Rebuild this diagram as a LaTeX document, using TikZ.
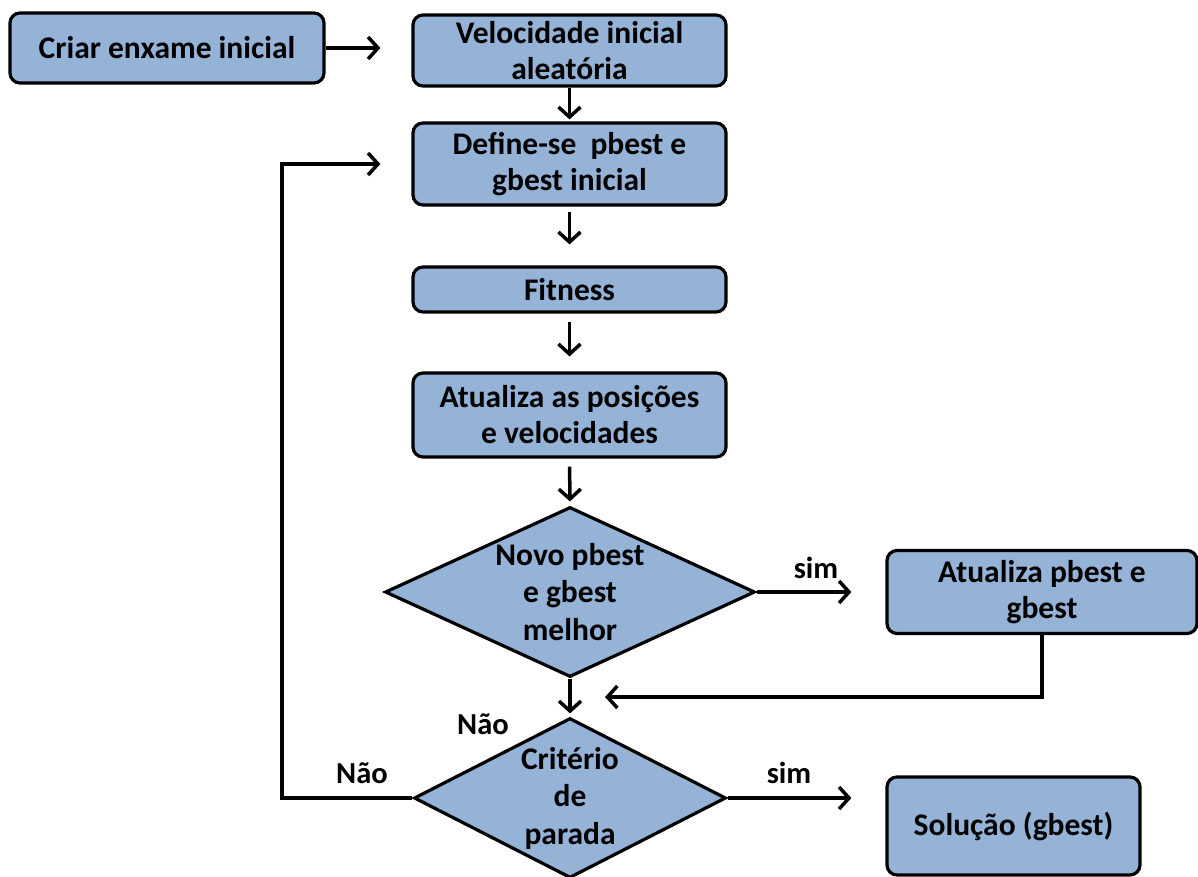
\documentclass[tikz,border=0pt]{standalone}
\usepackage{fontspec}
\setmainfont{Carlito}
\usetikzlibrary{shapes.geometric,arrows.meta}
\definecolor{boxblue}{RGB}{149,179,215}
\begin{document}
\begin{tikzpicture}[x=1pt,y=-1pt,
  box/.style={draw=black, fill=boxblue, line width=3.2pt, rounded corners=10pt, align=center,
    font=\fontsize{31.5}{36}\selectfont\bfseries, inner sep=0pt},
  dia/.style={draw=black, fill=boxblue, line width=3.2pt, shape=diamond, inner sep=0pt},
  dtext/.style={align=center, font=\fontsize{31.5}{37.5}\selectfont\bfseries},
  arr/.style={line width=3.5pt, -{Straight Barb[length=10pt,width=22pt,line width=3.5pt]}},
  lab/.style={font=\fontsize{30.5}{32}\selectfont\bfseries, inner sep=0pt}]
\useasboundingbox (0,0) rectangle (1198,877);
\node[box, minimum width=314pt, minimum height=70pt] (b1) at (167,48) {Criar enxame inicial};
\node[box, minimum width=313pt, minimum height=71pt] (b2) at (569.5,50.5) {Velocidade inicial\\aleatória};
\node[box, minimum width=313pt, minimum height=82pt] (b3) at (569.5,164) {Define-se~ pbest e\\gbest inicial};
\node[box, minimum width=313pt, minimum height=45pt] (b4) at (569.5,289.5) {Fitness};
\node[box, minimum width=313pt, minimum height=84pt] (b5) at (569.5,415) {Atualiza as posições\\e velocidades};
\node[dia, minimum width=370pt, minimum height=170pt,
  label={[dtext]center:Novo pbest\\e gbest\\melhor}] (d1) at (570,592) {};
\node[box, minimum width=310pt, minimum height=83pt] (b6) at (1042,592) {Atualiza pbest e\\gbest};
\node[dia, minimum width=312pt, minimum height=160pt,
  label={[dtext]center:Critério\\de\\parada}] (d2) at (570,798) {};
\node[box, minimum width=253pt, minimum height=98pt] (b7) at (1013.5,826) {Solução (gbest)};
\coordinate (m) at (605,697);
\coordinate (lp) at (282,798);

\draw[arr, shorten >=31pt] (b1.east) -- (b1.east -| b2.west);
\draw[arr, shorten >=2pt] (b2.south) -- (b3.north);
\draw[arr, shorten <=5pt, shorten >=21pt] (b3.south) -- (b4.north);
\draw[arr, shorten <=8pt, shorten >=15pt] (b4.south) -- (b5.north);
\draw[arr, shorten <=8pt, shorten >=4pt] (b5.south) -- (d1.north);
\draw[arr, shorten >=34pt] (d1.east) -- (d1.east -| b6.west);
\draw[arr, shorten >=3pt] (d1.south) -- (d2.north);
\draw[arr] (b6.south) |- (m);
\draw[arr, shorten >=31pt] (d2.west) -- (lp) |- (b3.west);
\draw[arr, shorten >=34pt] (d2.east) -- (d2.east -| b7.west);

\node[lab] (s1) at (816,568) {sim};
\node[lab] (s2) at (789,773) {sim};
\node[lab] (n1) at (483,724) {Não};
\node[lab] (n2) at (362,773) {Não};
\end{tikzpicture}
\end{document}
